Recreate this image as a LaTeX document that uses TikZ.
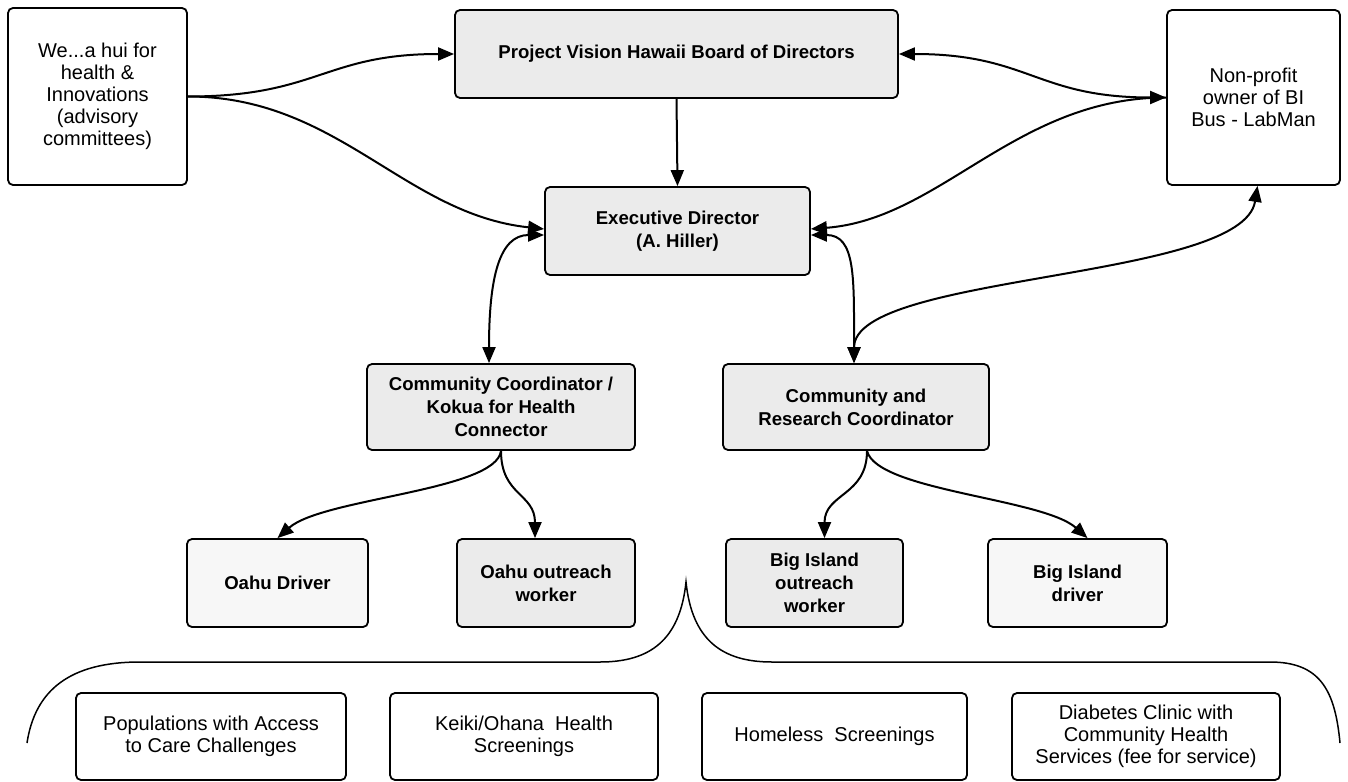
\documentclass[tikz,border=0pt]{standalone}
\usepackage{fontspec}
\setmainfont{Liberation Sans}
\usepackage{tikz}
\usetikzlibrary{arrows.meta,calc}

\definecolor{boxgray}{gray}{0.92}
\definecolor{drivergray}{gray}{0.97}

\begin{document}
\begin{tikzpicture}[x=0.5pt,y=-0.5pt,
    orgbox/.style={draw, line width=0.9pt, rounded corners=2.5pt, align=center, inner sep=0pt,
        font=\fontsize{10}{11}\selectfont},
    staffbox/.style={orgbox, fill=boxgray, font=\fontsize{9.3}{11.5}\selectfont\bfseries},
    driverbox/.style={orgbox, fill=drivergray, font=\fontsize{9.3}{11.5}\selectfont\bfseries},
    arr/.style={line width=1pt, -{Triangle[length=8pt,width=6.5pt]}},
    biarr/.style={line width=1pt, {Triangle[length=8pt,width=6.5pt]}-{Triangle[length=8pt,width=6.5pt]}}]
    \useasboundingbox (0,0) rectangle (1348,781);

    \node[orgbox, minimum width=89.5pt, minimum height=88.5pt] (hui) at (97.5,96.5)
        {We...a hui for\\health \&\\Innovations\\(advisory\\committees)};
    \node[staffbox, minimum width=221.5pt, minimum height=44pt] (board) at (676.5,54)
        {Project Vision Hawaii Board of Directors};
    \node[orgbox, minimum width=86.5pt, minimum height=87.5pt] (nonprofit) at (1253.5,97.5)
        {Non-profit\\owner of BI\\Bus - LabMan};
    \node[staffbox, minimum width=132.5pt, minimum height=44pt] (exec) at (677.5,231)
        {Executive Director\\(A. Hiller)};
    \node[staffbox, minimum width=134pt, minimum height=43pt] (cc) at (501,407)
        {Community Coordinator /\\Kokua for Health\\Connector};
    \node[staffbox, minimum width=133pt, minimum height=43pt] (cr) at (856,407)
        {Community and\\Research Coordinator};

    \node[driverbox, minimum width=90.5pt, minimum height=44pt] (odriver) at (277.5,583) {Oahu Driver};
    \node[staffbox, minimum width=89pt, minimum height=44pt] (oworker) at (546,583) {Oahu outreach\\worker};
    \node[staffbox, minimum width=88.5pt, minimum height=44pt] (bworker) at (814.5,583) {Big Island\\outreach\\worker};
    \node[driverbox, minimum width=89.5pt, minimum height=44pt] (bdriver) at (1077.5,583) {Big Island\\driver};

    \node[orgbox, minimum width=135pt, minimum height=43.5pt] (pop) at (211,736.5)
        {Populations with Access\\to Care Challenges};
    \node[orgbox, minimum width=134pt, minimum height=43.5pt] (keiki) at (524,736.5)
        {Keiki/Ohana\ \ Health\\Screenings};
    \node[orgbox, minimum width=132.5pt, minimum height=43.5pt] (homeless) at (834.5,736.5)
        {Homeless\ \ Screenings};
    \node[orgbox, minimum width=134pt, minimum height=43.5pt] (diabetes) at (1146,736.5)
        {Diabetes Clinic with\\Community Health\\Services (fee for service)};

    \draw[arr] (hui.east) .. controls +(130,0) and +(-130,0) .. (board.west);
    \draw[arr] (hui.east) .. controls +(150,0) and +(-140,-15) .. ($(exec.west)+(0,-2)$);
    \draw[arr] (board.south) -- (exec.north);
    \draw[biarr] (board.east) .. controls +(130,0) and +(-130,0) .. (nonprofit.west);
    \draw[arr] (nonprofit.west) .. controls +(-150,0) and +(130,-10) .. ($(exec.east)+(0,-2)$);

    \draw[biarr] ($(exec.west)+(0,4)$) .. controls +(-45,0) and +(0,-85) .. ($(cc.north)+(-12,0)$);
    \draw[biarr] ($(exec.east)+(0,4)$) .. controls +(45,0) and +(0,-85) .. ($(cr.north)+(-2,0)$);
    \draw[biarr] ($(cr.north)+(-2,0)$) .. controls +(0,-90) and +(-15,95) .. ($(nonprofit.south)+(4,0)$);

    \draw[arr] (cc.south) .. controls +(-5,40) and +(45,-40) .. (odriver.north);
    \draw[arr] (cc.south) .. controls +(0,45) and +(0,-45) .. ($(oworker.north)+(-11,0)$);
    \draw[arr] ($(cr.south)+(11,0)$) .. controls +(0,45) and +(0,-45) .. ($(bworker.north)+(10,0)$);
    \draw[arr] ($(cr.south)+(11,0)$) .. controls +(10,40) and +(-45,-40) .. ($(bdriver.north)+(10,0)$);

    \draw[line width=0.75pt] (27,743) .. controls (35,690) and (70,662) .. (140,662) -- (600,662)
        .. controls (650,662) and (680,640) .. (686,582)
        .. controls (692,640) and (722,662) .. (772,662) -- (1270,662)
        .. controls (1320,662) and (1335,690) .. (1340,743);
\end{tikzpicture}
\end{document}
